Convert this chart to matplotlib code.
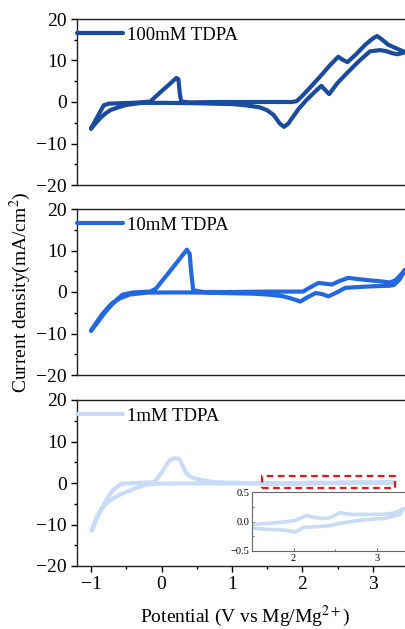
import matplotlib
matplotlib.use('Agg')
import matplotlib.pyplot as plt
from matplotlib.patches import Rectangle
from matplotlib.ticker import MultipleLocator

plt.rcParams['font.family'] = ['Liberation Serif', 'DejaVu Serif']
plt.rcParams['mathtext.fontset'] = 'stix'

# --- data (potential V, current density mA/cm2) ---
labels = ['100mM TDPA', '10mM TDPA', '1mM TDPA']
colors = ['#1A4B9C', '#2468E0', '#C9DCF7']

# 100 mM: anodic sweep then cathodic sweep
E_100 = [-1.00, -0.95, -0.88, -0.82, -0.75, -0.60, -0.40, -0.16, 0.00, 0.10, 0.21, 0.24, 0.26, 0.28,
         0.40, 0.80, 1.20, 1.60, 1.85, 1.92, 2.00, 2.10, 2.25, 2.40, 2.51, 2.57, 2.64, 2.75, 2.90,
         3.00, 3.06, 3.12, 3.22, 3.35, 3.46,
         3.35, 3.27, 3.18, 3.10, 2.96, 2.80, 2.63, 2.50, 2.38, 2.33, 2.27, 2.18, 2.06, 1.95, 1.87,
         1.80, 1.74, 1.68, 1.59, 1.50, 1.40, 1.20, 1.00, 0.50, 0.00, -0.30, -0.50, -0.60, -0.72,
         -0.80, -0.87, -0.94, -1.00]
j_100 = [-6.4, -4.8, -2.6, -0.8, -0.4, -0.3, -0.2, 0.1, 2.6, 4.1, 5.8, 5.5, 2.0, 0.1,
         -0.1, 0.0, 0.0, 0.0, 0.0, 0.2, 1.5, 3.3, 6.1, 9.0, 10.9, 10.2, 9.6, 11.3, 13.9,
         15.3, 15.9, 15.2, 13.8, 12.8, 12.0,
         11.5, 11.8, 12.3, 12.5, 12.2, 9.8, 6.9, 4.6, 1.9, 2.8, 3.9, 2.5, 0.5, -1.6, -3.5,
         -5.2, -6.0, -5.2, -3.1, -2.0, -1.3, -0.8, -0.5, -0.3, -0.2, -0.25, -0.7, -1.2, -1.9,
         -2.8, -3.9, -5.2, -6.4]

# 10 mM
E_10 = [-1.00, -0.92, -0.82, -0.68, -0.55, -0.40, -0.16, -0.08, 0.10, 0.25, 0.36, 0.40, 0.42, 0.45,
        0.60, 1.00, 1.50, 1.80, 2.01, 2.10, 2.23, 2.32, 2.42, 2.52, 2.65, 2.80, 2.96, 3.10, 3.24,
        3.32, 3.40, 3.46,
        3.38, 3.30, 3.24, 3.10, 2.96, 2.80, 2.61, 2.50, 2.37, 2.28, 2.19, 2.08, 1.97, 1.85, 1.73,
        1.54, 1.30, 1.00, 0.60, 0.20, -0.20, -0.45, -0.60, -0.72, -0.84, -0.93, -1.00]
j_10 = [-9.3, -7.6, -5.3, -2.5, -0.6, -0.1, 0.1, 0.8, 4.6, 7.8, 10.2, 9.2, 5.0, 0.4,
        0.0, 0.0, 0.1, 0.1, 0.1, 1.0, 2.2, 2.0, 1.8, 2.6, 3.4, 3.1, 2.8, 2.6, 2.3,
        2.8, 4.2, 5.4,
        3.0, 1.7, 1.5, 1.45, 1.35, 1.2, 1.0, 0.0, -1.05, -0.5, -0.25, -1.2, -2.3, -1.6, -1.05,
        -0.65, -0.4, -0.3, -0.15, -0.1, -0.15, -0.6, -1.6, -3.0, -5.3, -7.5, -9.3]

# 1 mM
E_1 = [-0.99, -0.92, -0.84, -0.77, -0.70, -0.58, -0.40, -0.11, -0.01, 0.05, 0.10, 0.15, 0.20, 0.25,
       0.30, 0.34, 0.40, 0.44, 0.50, 0.58, 0.70, 0.90, 1.20, 1.50, 1.70, 1.88, 2.02, 2.08, 2.16,
       2.25, 2.34, 2.44, 2.50, 2.56, 2.64, 2.72, 2.90, 3.04, 3.20, 3.26, 3.32,
       3.28, 3.18, 3.08, 2.95, 2.80, 2.65, 2.56, 2.44, 2.36, 2.25, 2.12, 2.02, 1.92, 1.80, 1.65,
       1.48, 1.20, 0.80, 0.40, 0.00, -0.20, -0.34, -0.46, -0.58, -0.68, -0.77, -0.84, -0.91, -0.99]
j_1 = [-11.4, -8.5, -5.9, -3.7, -1.9, -0.25, 0.0, 0.15, 2.2, 3.8, 5.2, 5.8, 6.0, 5.8,
       4.2, 2.6, 1.6, 1.35, 1.0, 0.7, 0.3, 0.1, 0.0, -0.05, -0.03, -0.01, 0.02, 0.06, 0.10,
       0.07, 0.05, 0.06, 0.11, 0.15, 0.13, 0.12, 0.12, 0.12, 0.14, 0.17, 0.22,
       0.12, 0.08, 0.05, 0.04, 0.02, -0.01, -0.03, -0.07, -0.08, -0.09, -0.10, -0.18, -0.15, -0.14,
       -0.13, -0.11, -0.10, -0.10, -0.10, -0.15, -0.3, -1.05, -1.9, -2.7, -3.7, -4.7, -6.0, -7.9, -11.4]

curves = [(E_100, j_100), (E_10, j_10), (E_1, j_1)]
zoom_box = (1.42, -1.2, 3.32, 1.76)   # x0, y0, x1, y1 of the red dashed box

fig = plt.figure(figsize=(4.05, 6.29), dpi=100)
fig.patch.set_facecolor('white')

left, width, height = 77 / 405, 331 / 405, 166 / 629
bottoms = [1 - 185 / 629, 1 - 375 / 629, 1 - 566 / 629]

axes = []
for i, ((E, j), lab, col) in enumerate(zip(curves, labels, colors)):
    ax = fig.add_axes([left, bottoms[i], width, height])
    ax.plot(E, j, color=col, lw=3.0, label=lab,
            solid_capstyle='round', solid_joinstyle='round')
    ax.set_xlim(-1.2, 3.5)
    ax.set_ylim(-20, 20)
    ax.yaxis.set_major_locator(MultipleLocator(10))
    ax.yaxis.set_minor_locator(MultipleLocator(5))
    ax.tick_params(axis='y', which='major', direction='out', length=4, width=1, labelsize=14)
    ax.tick_params(axis='y', which='minor', direction='out', length=2.5, width=1)
    for s in ax.spines.values():
        s.set_linewidth(1.0)
        s.set_color('#222222')
    if i < 2:
        ax.tick_params(axis='x', which='both', bottom=False, labelbottom=False)
    else:
        ax.xaxis.set_major_locator(MultipleLocator(1))
        ax.xaxis.set_minor_locator(MultipleLocator(0.5))
        ax.tick_params(axis='x', which='major', direction='out', length=4, width=1, labelsize=14)
        ax.tick_params(axis='x', which='minor', direction='out', length=2.5, width=1)
    ax.legend(loc='upper left', bbox_to_anchor=(0, 0.955), frameon=False, fontsize=13.5,
              handlelength=2.45, handletextpad=0.2, borderpad=0, borderaxespad=0)
    axes.append(ax)

# red dashed box marking the zoomed region
x0, y0, x1, y1 = zoom_box
axes[2].add_patch(Rectangle((x0, y0), x1 - x0, y1 - y0, fill=False,
                            edgecolor='#E8161B', linestyle=(0, (3, 2)), lw=1.6, zorder=5))

# inset
ins = fig.add_axes([252 / 405, 1 - 551 / 629, 158 / 405, 59 / 629])
ins.plot(E_1, j_1, color=colors[2], lw=2.6, solid_capstyle='round', solid_joinstyle='round')
ins.set_xlim(1.5, 3.4)
ins.set_ylim(-0.5, 0.5)
ins.xaxis.set_major_locator(MultipleLocator(1))
ins.xaxis.set_minor_locator(MultipleLocator(0.5))
ins.yaxis.set_major_locator(MultipleLocator(0.5))
ins.yaxis.set_minor_locator(MultipleLocator(0.25))
ins.tick_params(which='both', direction='in', labelsize=7.5, width=0.6, color='#555555', pad=2)
ins.tick_params(which='major', length=2.5)
ins.tick_params(which='minor', length=1.5)
ins.yaxis.set_major_formatter(plt.FuncFormatter(lambda v, p: f'{v:.1f}'.replace('-', '\u2212')))
for s in ins.spines.values():
    s.set_linewidth(0.8)
    s.set_color('#666666')

fig.text(20 / 405, 1 - 292 / 629, 'Current density(mA/cm$^2$)', rotation=90,
         ha='center', va='center', fontsize=14)
fig.text(245 / 405, 1 - 616 / 629, 'Potential (V vs Mg/Mg$^{2+}$)',
         ha='center', va='center', fontsize=14)

plt.savefig('out.png', dpi=100, facecolor='white')
plt.close(fig)
